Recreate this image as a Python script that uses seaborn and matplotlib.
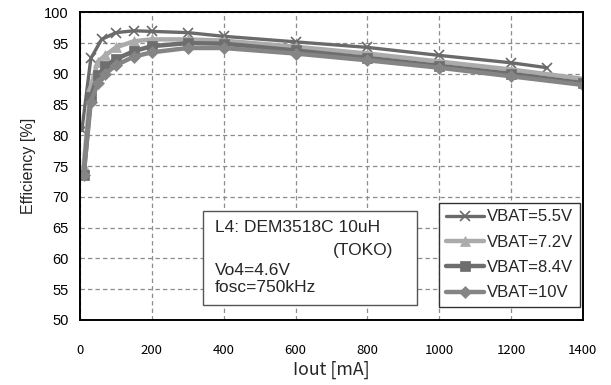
import pandas as pd
import numpy as np
import matplotlib
matplotlib.use('Agg')
import matplotlib.pyplot as plt
import seaborn as sns
from matplotlib.patches import Rectangle

# valores
iout_55 = [5, 30, 60, 100, 150, 200, 300, 400, 600, 800, 1000, 1200, 1300]
eff_55 = [80.8, 92.5, 95.6, 96.7, 97.0, 96.9, 96.7, 96.1, 95.2, 94.3, 93.0, 91.8, 91.0]

iout = [10, 30, 50, 70, 100, 150, 200, 300, 400, 600, 800, 1000, 1200, 1400]
eff_72 = [75.0, 88.0, 92.0, 93.0, 94.3, 95.3, 95.6, 95.6, 95.4, 94.4, 93.3, 92.0, 90.7, 89.2]
eff_84 = [73.5, 86.3, 89.8, 91.2, 92.4, 93.7, 94.5, 95.0, 94.9, 93.8, 92.6, 91.3, 90.0, 88.5]
eff_10 = [73.5, 85.5, 88.5, 90.0, 91.4, 92.8, 93.5, 94.2, 94.2, 93.3, 92.2, 91.0, 89.6, 88.2]

labels = ['VBAT=5.5V', 'VBAT=7.2V', 'VBAT=8.4V', 'VBAT=10V']
x_ticks = [0, 200, 400, 600, 800, 1000, 1200, 1400]
y_ticks = [50, 55, 60, 65, 70, 75, 80, 85, 90, 95, 100]

sns.set_style('white')
plt.rcParams['font.family'] = ['Liberation Sans', 'DejaVu Sans']

series = [
    (iout_55, eff_55, labels[0], '#6a6a6a', 'x', 7.5, 2.4),
    (iout, eff_72, labels[1], '#ababab', '^', 7, 3.2),
    (iout, eff_84, labels[2], '#6e6e6e', 's', 7, 3.2),
    (iout, eff_10, labels[3], '#858585', 'D', 6, 3.2),
]

fig = plt.figure(figsize=(6.11, 3.85), dpi=100)
ax = fig.add_axes([0.131, 0.169, 0.823, 0.799])

for xs, ys, lab, col, mk, ms, lw in series:
    df = pd.DataFrame({'Iout': xs, 'Eff': ys})
    sns.lineplot(data=df, x='Iout', y='Eff', ax=ax, color=col, marker=mk,
                 markersize=ms, linewidth=lw, markeredgecolor=col,
                 markeredgewidth=1.2 if mk == 'x' else 0.5, label=lab)

ax.set_xlim(0, 1400)
ax.set_ylim(50, 100)
ax.set_xticks(x_ticks)
ax.set_yticks(y_ticks)
ax.grid(True, color='#8c8c8c', linestyle=(0, (3.5, 2.5)), linewidth=0.9)
for s in ax.spines.values():
    s.set_color('black')
    s.set_linewidth(1.4)

ax.tick_params(axis='both', direction='in', length=3, width=1, colors='black')
ax.tick_params(axis='x', pad=17)
ax.tick_params(axis='y', pad=8)
for t in ax.get_xticklabels():
    t.set_family(['Noto Sans CJK JP', 'DejaVu Sans'])
    t.set_fontsize(9.5)
for t in ax.get_yticklabels():
    t.set_fontsize(10.5)

ax.set_xlabel('Iout [mA]', fontsize=12.8, family=['Noto Sans CJK JP', 'DejaVu Sans'], labelpad=3)
ax.set_ylabel('Efficiency [%]', fontsize=11.5, labelpad=6)

leg = ax.legend(loc='lower right', bbox_to_anchor=(0.994, 0.042), fontsize=12,
                frameon=True, fancybox=False, handlelength=2.3, handletextpad=0.15,
                labelspacing=0.62, borderpad=0.4, borderaxespad=0.0)
leg.get_frame().set_edgecolor('#333333')
leg.get_frame().set_linewidth(1.0)
leg.get_frame().set_alpha(1)

# cuadro de condiciones
box = Rectangle((0.245, 0.049), 0.425, 0.305, transform=ax.transAxes,
                facecolor='white', edgecolor='#555555', linewidth=1.0, zorder=5)
ax.add_patch(box)
txt = dict(transform=ax.transAxes, fontsize=12.5, va='center', zorder=6)
ax.text(0.268, 0.299, 'L4: DEM3518C 10uH', ha='left', **txt)
ax.text(0.622, 0.227, '(TOKO)', ha='right', **txt)
ax.text(0.268, 0.162, 'Vo4=4.6V', ha='left', **txt)
ax.text(0.268, 0.104, 'fosc=750kHz', ha='left', **txt)

fig.savefig('out.png', dpi=100)
